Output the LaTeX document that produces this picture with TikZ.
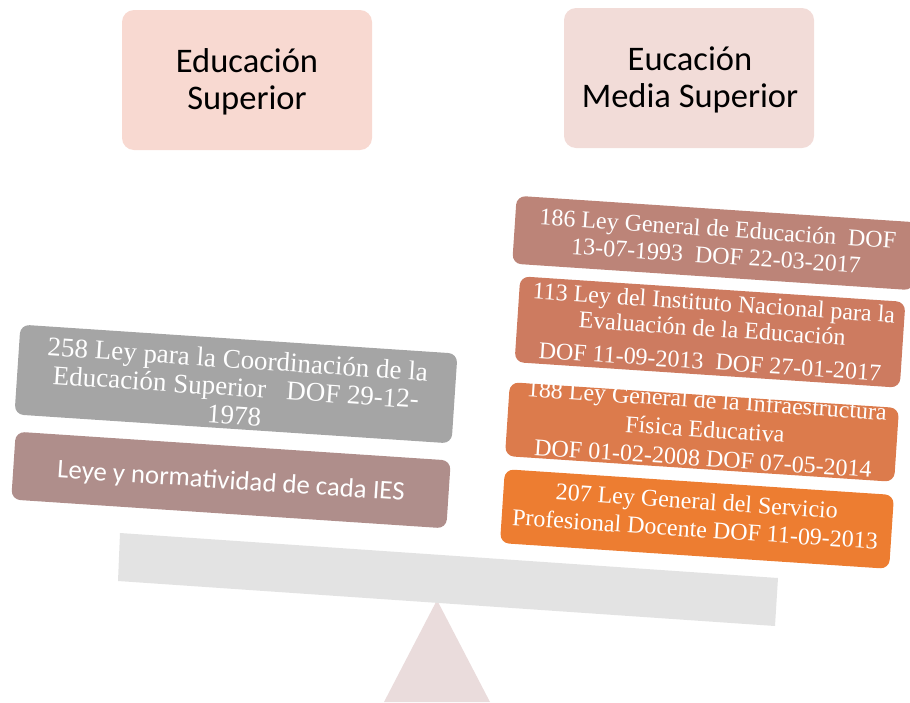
\documentclass[tikz,border=0pt]{standalone}
\usepackage{fontspec}
\setmainfont{Liberation Serif}
\newfontfamily\calfont{Carlito}
\definecolor{c186}{HTML}{BC8478}
\definecolor{c113}{HTML}{CD7B60}
\definecolor{c188}{HTML}{DC7B4C}
\definecolor{c207}{HTML}{ED7D31}
\definecolor{cgray}{HTML}{A5A5A5}
\definecolor{cleye}{HTML}{AF8E8B}
\definecolor{ctopL}{HTML}{F8D9D1}
\definecolor{ctopR}{HTML}{F2DCD8}
\definecolor{cbeam}{HTML}{E3E3E3}
\definecolor{cfulc}{HTML}{EADCDC}
\tikzset{
  tilt/.style={rotate=-3.8},
  bar/.style={tilt, rounded corners=9pt, inner sep=0pt},
  lawtxt/.style={tilt, text=white, align=center, inner sep=0pt, font=\fontsize{24}{27}\selectfont},
  headbox/.style={rounded corners=12pt, inner sep=0pt, minimum width=250pt, minimum height=140pt},
  headtxt/.style={align=center, inner sep=0pt, font=\calfont\fontsize{34.5}{37}\selectfont}
}
\begin{document}
\begin{tikzpicture}[x=1pt,y=-1pt]
\useasboundingbox (0,0) rectangle (910,702);
% headings
\node[headbox, fill=ctopL] (hl) at (247,80) {};
\node[headtxt] (hlt) at (247,82) {Educación\\Superior};
\node[headbox, fill=ctopR] (hr) at (689,78) {};
\node[headtxt] (hrt) at (690,80) {Eucación\\Media Superior};
% fulcrum and beam
\fill[cfulc] (437,600) coordinate (apex) -- (490,702) coordinate (fr) -- (384,702) coordinate (fl) -- cycle;
\fill[cbeam] (120,533) coordinate (b1) -- (778,578) coordinate (b2) -- (775,626) coordinate (b3) -- (118,581) coordinate (b4) -- cycle;
% left side
\node[bar, fill=cgray, minimum width=438pt, minimum height=90pt] (bg) at (236,384) {};
\node[lawtxt, font=\fontsize{27}{28}\selectfont] (tg) at (236,387) {258 Ley para la Coordinación de la\\Educación Superior\ \ \ DOF 29-12-\\1978};
\node[bar, fill=cleye, minimum width=436pt, minimum height=68pt] (bl) at (231,480) {};
\node[tilt, text=white, inner sep=0pt, font=\calfont\fontsize{26.8}{30}\selectfont] (tl) at (231,482) {Leye y normatividad de cada IES};
% right side
\node[bar, fill=c186, minimum width=402pt, minimum height=68pt] (r1) at (715,243) {};
\node[lawtxt] (t1) at (717,242) {186 Ley General de Educación\ \ DOF\\13-07-1993\ \ DOF 22-03-2017};
\node[bar, fill=c113, minimum width=386pt, minimum height=86pt] (r2) at (710,332) {};
\node[lawtxt, font=\fontsize{24}{26}\selectfont] (t2) at (712,332) {113 Ley del Instituto Nacional para la\\Evaluación de la Educación\\[7pt]DOF 11-09-2013\ \ DOF 27-01-2017};
\node[bar, fill=c188, minimum width=390pt, minimum height=74pt] (r3) at (702,432) {};
\node[lawtxt, font=\fontsize{24}{29}\selectfont] (t3) at (705,429) {188 Ley General de la Infraestructura\\Física Educativa\\DOF 01-02-2008 DOF 07-05-2014};
\node[bar, fill=c207, minimum width=390pt, minimum height=74pt] (r4) at (697,519) {};
\node[lawtxt, font=\fontsize{24}{28}\selectfont] (t4) at (696,515) {207 Ley General del Servicio\\Profesional Docente DOF 11-09-2013};
\end{tikzpicture}
\end{document}
